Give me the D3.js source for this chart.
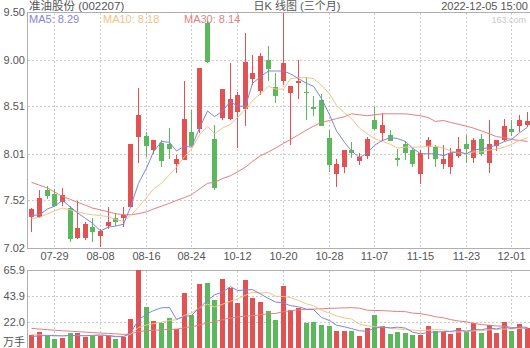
<!DOCTYPE html>
<html>
<head>
<meta charset="utf-8">
<script src="https://cdn.jsdelivr.net/npm/d3@7/dist/d3.min.js"></script>
<style>
  html, body { margin: 0; padding: 0; background: #fff; overflow: hidden; }
  svg { display: block; }
  text { font-family: 'Liberation Sans', Arial, 'Noto Sans CJK SC', sans-serif; }
</style>
</head>
<body>
<svg id="chart" width="530" height="348"></svg>
<script>
// 准油股份 (002207) daily K-line, three months up to 2022-12-05
const dates = [
  '07-26', '07-27', '07-28', '07-29', '08-01', '08-02', '08-03', '08-04', '08-05', '08-08',
  '08-09', '08-10', '08-11', '08-12', '08-15', '08-16', '08-17', '08-18', '08-19', '08-22',
  '08-23', '08-24', '08-25', '08-26', '08-29', '10-10', '10-11', '10-12', '10-13', '10-14',
  '10-17', '10-18', '10-19', '10-20', '10-21', '10-24', '10-25', '10-26', '10-27', '10-28',
  '10-31', '11-01', '11-02', '11-03', '11-04', '11-07', '11-08', '11-09', '11-10', '11-11',
  '11-14', '11-15', '11-16', '11-17', '11-18', '11-21', '11-22', '11-23', '11-24', '11-25',
  '11-28', '11-29', '11-30', '12-01', '12-02', '12-05'
]
const open = [
  7.35, 7.35, 7.63, 7.59, 7.51, 7.44, 7.12, 7.12, 7.24, 7.15,
  7.25, 7.33, 7.34, 7.45, 8.19, 8.20, 8.04, 8.12, 8.11, 7.90,
  7.95, 8.24, 8.27, 9.38, 8.17, 8.39, 8.38, 8.45, 8.48, 8.80,
  8.67, 9.00, 8.71, 8.77, 8.65, 8.76, 8.66, 8.50, 8.58, 8.18,
  7.79, 7.87, 8.05, 7.94, 7.99, 8.37, 8.23, 8.21, 7.97, 8.11,
  8.05, 7.80, 8.08, 8.08, 7.90, 7.87, 7.99, 8.11, 7.96, 8.17,
  7.91, 8.09, 8.15, 8.27, 8.31, 8.31
]
const high = [
  7.44, 7.63, 7.67, 7.64, 7.65, 7.46, 7.51, 7.29, 7.33, 7.22,
  7.45, 7.39, 7.45, 8.11, 8.70, 8.24, 8.15, 8.15, 8.28, 8.00,
  8.77, 8.47, 8.91, 9.41, 8.31, 8.69, 8.96, 8.66, 9.28, 9.05,
  9.07, 9.14, 8.86, 9.49, 8.72, 9.00, 8.82, 8.62, 8.64, 8.26,
  7.96, 8.05, 8.13, 8.02, 8.19, 8.50, 8.44, 8.26, 8.06, 8.14,
  8.07, 8.05, 8.19, 8.10, 8.10, 8.07, 8.19, 8.21, 8.18, 8.22,
  8.36, 8.15, 8.38, 8.37, 8.42, 8.45
]
const low = [
  7.19, 7.34, 7.54, 7.45, 7.46, 7.08, 7.11, 7.10, 7.08, 7.03,
  7.22, 7.25, 7.24, 7.45, 7.91, 7.98, 8.01, 7.87, 7.96, 7.81,
  7.94, 8.08, 8.23, 8.96, 7.63, 8.36, 8.36, 8.07, 8.30, 8.73,
  8.63, 8.77, 8.54, 8.73, 8.10, 8.59, 8.36, 8.41, 8.30, 7.82,
  7.66, 7.81, 7.97, 7.89, 7.96, 8.26, 8.14, 8.14, 7.88, 7.94,
  7.87, 7.69, 7.95, 7.87, 7.85, 7.80, 7.97, 7.91, 7.91, 7.99,
  7.81, 8.04, 8.13, 8.20, 8.24, 8.29
]
const close = [
  7.43, 7.55, 7.57, 7.46, 7.58, 7.11, 7.23, 7.27, 7.19, 7.20,
  7.29, 7.29, 7.37, 8.11, 8.42, 8.09, 8.15, 7.93, 8.06, 7.95,
  8.38, 8.09, 8.91, 8.97, 7.65, 8.69, 8.59, 8.63, 8.97, 8.86,
  9.04, 8.91, 8.62, 8.96, 8.72, 8.78, 8.65, 8.48, 8.31, 7.90,
  7.90, 8.05, 8.02, 7.98, 8.17, 8.28, 8.31, 8.15, 7.95, 8.02,
  7.90, 8.02, 8.15, 7.95, 7.95, 8.02, 8.06, 8.06, 8.15, 8.01,
  8.11, 8.15, 8.30, 8.24, 8.37, 8.35
]
const ma5 = [
  7.36, 7.37, 7.43, 7.46, 7.52, 7.45, 7.39, 7.33, 7.28, 7.20,
  7.24, 7.25, 7.27, 7.45, 7.70, 7.86, 8.03, 8.14, 8.13, 8.04,
  8.09, 8.08, 8.28, 8.46, 8.40, 8.46, 8.56, 8.51, 8.51, 8.75,
  8.82, 8.88, 8.88, 8.88, 8.85, 8.80, 8.75, 8.72, 8.59, 8.42,
  8.25, 8.13, 8.04, 7.97, 8.02, 8.10, 8.15, 8.18, 8.17, 8.14,
  8.07, 8.01, 8.01, 8.01, 7.99, 8.02, 8.03, 8.01, 8.05, 8.06,
  8.08, 8.10, 8.14, 8.16, 8.23, 8.29
]
const ma10 = [
  7.33, 7.34, 7.38, 7.41, 7.44, 7.42, 7.40, 7.38, 7.37, 7.36,
  7.35, 7.32, 7.30, 7.36, 7.45, 7.55, 7.64, 7.70, 7.79, 7.87,
  7.98, 8.06, 8.21, 8.30, 8.22, 8.28, 8.32, 8.39, 8.48, 8.57,
  8.64, 8.72, 8.69, 8.69, 8.80, 8.81, 8.81, 8.80, 8.73, 8.64,
  8.52, 8.44, 8.38, 8.28, 8.22, 8.17, 8.14, 8.11, 8.07, 8.08,
  8.08, 8.08, 8.09, 8.09, 8.07, 8.04, 8.02, 8.01, 8.03, 8.03,
  8.05, 8.06, 8.08, 8.11, 8.15, 8.18
]
const ma30 = [
  7.71, 7.68, 7.65, 7.61, 7.56, 7.53, 7.50, 7.47, 7.44, 7.42,
  7.40, 7.38, 7.37, 7.37, 7.38, 7.40, 7.43, 7.46, 7.49, 7.52,
  7.55, 7.58, 7.64, 7.70, 7.71, 7.75, 7.78, 7.82, 7.87, 7.93,
  7.99, 8.03, 8.07, 8.12, 8.16, 8.21, 8.26, 8.30, 8.34, 8.36,
  8.38, 8.40, 8.43, 8.42, 8.41, 8.42, 8.43, 8.43, 8.43, 8.43,
  8.42, 8.41, 8.39, 8.35, 8.36, 8.34, 8.32, 8.30, 8.28, 8.25,
  8.22, 8.19, 8.18, 8.16, 8.15, 8.14
]
// volume in 万手
const volume = [
  11.0, 13.5, 10.1, 7.9, 8.7, 12.9, 12.4, 9.6, 10.1, 9.9,
  10.4, 7.9, 9.6, 24.5, 65.9, 34.9, 23.1, 21.4, 25.3, 16.3,
  46.7, 27.9, 54.3, 55.2, 40.6, 58.3, 50.4, 38.3, 57.5, 42.5,
  39.1, 31.5, 23.7, 52.6, 32.1, 34.1, 21.4, 22.2, 19.4, 18.9,
  14.6, 14.6, 14.6, 10.1, 16.6, 27.9, 18.6, 11.6, 13.5, 12.4,
  11.0, 11.0, 18.6, 14.6, 13.8, 11.8, 16.6, 14.6, 20.9, 12.9,
  19.4, 12.9, 22.2, 14.6, 20.3, 17.2
]
const volMa5 = [
  9.6, 10.3, 10.5, 10.4, 10.2, 10.6, 10.4, 10.3, 10.7, 11.0,
  10.5, 9.6, 9.6, 12.5, 23.7, 28.6, 31.6, 34.0, 34.1, 24.2,
  26.6, 27.5, 34.1, 40.1, 44.9, 47.3, 51.8, 48.6, 49.0, 49.4,
  45.6, 41.8, 38.9, 37.9, 35.8, 34.8, 32.8, 32.5, 25.8, 23.2,
  19.3, 17.9, 16.4, 14.6, 14.1, 16.8, 17.6, 17.0, 17.6, 16.8,
  13.4, 11.9, 13.3, 13.5, 13.8, 14.0, 15.1, 14.3, 15.5, 15.4,
  16.9, 16.1, 17.7, 16.4, 17.9, 17.4
]
const volMa10 = [
  11.2, 11.0, 10.8, 10.6, 10.4, 10.5, 10.6, 10.5, 10.6, 10.6,
  10.6, 10.0, 9.9, 11.6, 17.3, 19.5, 20.6, 21.8, 23.3, 23.9,
  27.6, 29.6, 34.0, 37.1, 34.6, 36.9, 39.6, 41.3, 44.6, 47.2,
  46.4, 46.8, 43.7, 43.5, 42.6, 40.2, 37.3, 35.7, 31.9, 29.5,
  27.1, 25.4, 24.5, 20.2, 18.7, 18.0, 17.8, 16.7, 16.1, 15.5,
  15.1, 14.7, 15.1, 15.6, 15.3, 13.7, 13.5, 13.8, 14.5, 14.6,
  15.4, 15.6, 16.0, 16.0, 16.6, 17.2
]
const volMa30 = [
  16.6, 16.0, 15.5, 15.0, 14.6, 14.2, 13.8, 13.4, 13.0, 12.6,
  12.3, 12.0, 11.5, 11.9, 13.8, 14.6, 15.0, 15.3, 15.7, 15.9,
  17.2, 17.9, 19.5, 21.1, 22.2, 23.9, 25.3, 26.2, 27.0, 27.2,
  28.2, 28.8, 29.2, 30.7, 31.5, 32.2, 32.5, 32.9, 33.2, 33.5,
  33.7, 33.9, 34.1, 33.6, 31.9, 31.7, 31.6, 31.2, 30.8, 30.7,
  29.5, 29.0, 27.8, 26.4, 25.5, 24.0, 22.8, 22.1, 20.8, 19.8,
  19.2, 18.6, 18.5, 17.3, 16.9, 16.3
]
const priceTicks = [7.02, 7.52, 8.01, 8.51, 9.00, 9.50]
const volumeTicks = [22.0, 43.9, 65.9]
const dateTicks = ['07-29', '08-08', '08-16', '08-24', '10-12', '10-20', '10-28', '11-07', '11-15', '11-23', '12-01']

const RED = '#e25252'
const GREEN = '#5cb85c'
const GRID = '#cccccc'
const BORDER = '#b0b0b0'
const LABEL = '#555'
const maColors = { ma5: '#7f86d9', ma10: '#f3c384', ma30: '#e47f7f' }

const svg = d3.select('#chart')
const width = +svg.attr('width')

const x = d3.scaleBand()
  .domain(dates)
  .range([27.6, 530.5])
  .paddingInner(0.35)
  .paddingOuter(0.175)
const mid = d => Math.round(x(d) + x.bandwidth() / 2)
const bw = Math.round(x.bandwidth())

const y = d3.scaleLinear().domain([7.02, 9.50]).range([248, 12])
const vy = d3.scaleLinear().domain([0, 65.9]).range([348, 270])
const left = Math.floor(x.range()[0])

const candles = dates.map((d, i) => ({
  date: d, open: open[i], high: high[i], low: low[i], close: close[i], volume: volume[i]
}))
const colorOf = d => d.close >= d.open ? RED : GREEN
const crisp = v => Math.round(v) + 0.5

// dashed grid
const grid = svg.append('g')
  .attr('stroke', GRID)
  .attr('stroke-dasharray', '2,2')
  .attr('shape-rendering', 'crispEdges')

grid.selectAll('.hgrid')
  .data(priceTicks.slice(1, -1))
  .enter().append('line')
  .attr('x1', left + 1).attr('x2', width)
  .attr('y1', d => crisp(y(d))).attr('y2', d => crisp(y(d)))

grid.selectAll('.vhgrid')
  .data(volumeTicks.slice(0, -1))
  .enter().append('line')
  .attr('x1', left + 1).attr('x2', width)
  .attr('y1', d => crisp(vy(d))).attr('y2', d => crisp(vy(d)))

const panels = [y.range(), vy.range()]
panels.forEach(r => {
  grid.selectAll(null)
    .data(dateTicks)
    .enter().append('line')
    .attr('x1', d => mid(d) + 0.5).attr('x2', d => mid(d) + 0.5)
    .attr('y1', r[1] + 1).attr('y2', r[0])
})

// panel frames
const frame = svg.append('g')
  .attr('stroke', BORDER)
  .attr('fill', 'none')
  .attr('shape-rendering', 'crispEdges')
frame.append('path')
  .attr('d', `M${width},${y.range()[1] + 0.5}H${left + 0.5}V${y.range()[0] + 0.5}H${width}`)
frame.append('path')
  .attr('d', `M${width},${vy.range()[1] + 0.5}H${left + 0.5}V${vy.range()[0]}`)

// candles
const candleG = svg.append('g').attr('shape-rendering', 'crispEdges')
candleG.selectAll('.wick')
  .data(candles)
  .enter().append('line')
  .attr('class', 'wick')
  .attr('x1', d => mid(d.date) + 0.5).attr('x2', d => mid(d.date) + 0.5)
  .attr('y1', d => Math.round(y(d.high))).attr('y2', d => Math.round(y(d.low)))
  .attr('stroke', colorOf)

candleG.selectAll('.body')
  .data(candles)
  .enter().append('rect')
  .attr('class', 'body')
  .attr('x', d => mid(d.date) - Math.floor(bw / 2))
  .attr('width', bw)
  .attr('y', d => Math.round(y(Math.max(d.open, d.close))))
  .attr('height', d => Math.max(1, Math.round(Math.abs(y(d.open) - y(d.close)))))
  .attr('fill', colorOf)

// volume bars
candleG.selectAll('.vol')
  .data(candles)
  .enter().append('rect')
  .attr('class', 'vol')
  .attr('x', d => mid(d.date) - Math.floor(bw / 2))
  .attr('width', bw)
  .attr('y', d => Math.round(vy(d.volume)))
  .attr('height', d => vy(0) - Math.round(vy(d.volume)))
  .attr('fill', colorOf)

// moving averages
const drawLine = (values, scale, color) => {
  const line = d3.line()
    .x((v, i) => mid(dates[i]) + 0.5)
    .y(v => scale(v))
  svg.append('path')
    .datum(values)
    .attr('fill', 'none')
    .attr('stroke', color)
    .attr('stroke-width', 1)
    .attr('d', line)
}
drawLine(ma30, y, maColors.ma30)
drawLine(ma10, y, maColors.ma10)
drawLine(ma5, y, maColors.ma5)
drawLine(volMa30, vy, maColors.ma30)
drawLine(volMa10, vy, maColors.ma10)
drawLine(volMa5, vy, maColors.ma5)

// axis labels
const labels = svg.append('g').attr('fill', LABEL).style('font-size', '11px')
labels.selectAll('.ptick')
  .data(priceTicks)
  .enter().append('text')
  .attr('x', left - 2)
  .attr('y', d => y(d) + 4)
  .attr('text-anchor', 'end')
  .text(d => d.toFixed(2))

labels.selectAll('.vtick')
  .data(volumeTicks)
  .enter().append('text')
  .attr('x', left - 2)
  .attr('y', d => vy(d) + 4)
  .attr('text-anchor', 'end')
  .text(d => d.toFixed(1))

labels.selectAll('.dtick')
  .data(dateTicks)
  .enter().append('text')
  .attr('x', d => mid(d) + 0.5)
  .attr('y', 260)
  .attr('text-anchor', 'middle')
  .text(d => d)

labels.append('text')
  .attr('x', 3).attr('y', 346)
  .text('万手')

// header
const header = svg.append('g').attr('fill', LABEL)
header.append('text')
  .attr('x', 29).attr('y', 10)
  .style('font-size', '11.5px')
  .text('准油股份 (002207)')
header.append('text')
  .attr('x', 297).attr('y', 10)
  .attr('text-anchor', 'middle')
  .style('font-size', '11px')
  .text('日K 线图 (三个月)')
header.append('text')
  .attr('x', 528).attr('y', 10)
  .attr('text-anchor', 'end')
  .style('font-size', '11px')
  .text('2022-12-05 15:00')

// MA legend
const legend = [
  { name: 'MA5', values: ma5, color: maColors.ma5, x: 29 },
  { name: 'MA10', values: ma10, color: maColors.ma10, x: 103 },
  { name: 'MA30', values: ma30, color: maColors.ma30, x: 184 }
]
svg.append('g').selectAll('text')
  .data(legend)
  .enter().append('text')
  .attr('x', d => d.x)
  .attr('y', 23)
  .attr('fill', d => d.color)
  .style('font-size', '11px')
  .text(d => `${d.name}: ${d.values[d.values.length - 1].toFixed(2)}`)

svg.append('text')
  .attr('x', 526).attr('y', 23)
  .attr('text-anchor', 'end')
  .attr('fill', '#c8c8c8')
  .style('font-size', '9px')
  .text('163.com')
</script>
</body>
</html>
